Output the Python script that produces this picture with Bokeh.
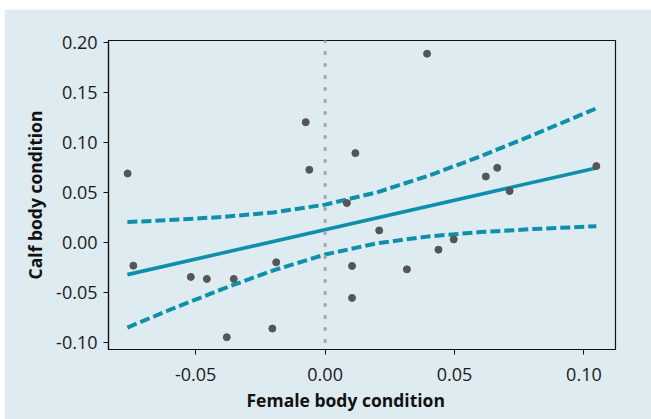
from bokeh.plotting import figure
from bokeh.models import FixedTicker, NumeralTickFormatter, Range1d, Span, Title
from bokeh.embed import file_html
from bokeh.resources import INLINE

# Female body condition (x) and calf body condition (y)
female = [-0.0763, -0.0075, -0.0061, 0.0394, 0.0117, 0.0084, 0.0621, 0.0665,
          0.1048, 0.0713, -0.0741, -0.0519, -0.0457, -0.0353, -0.0380, -0.0204,
          -0.0189, 0.0209, 0.0104, 0.0104, 0.0316, 0.0438, 0.0497]
calf = [0.0693, 0.1207, 0.0730, 0.1893, 0.0897, 0.0397, 0.0663, 0.0750,
        0.0767, 0.0517, -0.0230, -0.0343, -0.0363, -0.0363, -0.0947, -0.0860,
        -0.0197, 0.0123, -0.0233, -0.0553, -0.0267, -0.0070, 0.0033]

# Fitted regression line (end points)
fit_x = [-0.0764, 0.1048]
fit_y = [-0.0320, 0.0749]

# 95% confidence band
band_x = [-0.0764, -0.06, -0.04, -0.02, 0.0, 0.02, 0.04, 0.06, 0.08, 0.1048]
band_upper = [0.0207, 0.0226, 0.0257, 0.0303, 0.0381, 0.0504, 0.0671, 0.0864, 0.1075, 0.1345]
band_lower = [-0.0850, -0.0672, -0.0467, -0.0277, -0.0119, -0.0006, 0.0063, 0.0106, 0.0136, 0.0165]

x_ticks = [-0.05, 0.0, 0.05, 0.10]
y_ticks = [-0.10, -0.05, 0.0, 0.05, 0.10, 0.15, 0.20]

BG = "#deebf1"
TEAL = "#0e90aa"
FONT = "Open Sans"

p = figure(width=647, height=410, output_backend="svg", toolbar_location=None,
           x_range=Range1d(-0.0837, 0.1122), y_range=Range1d(-0.107, 0.2025),
           min_border_left=104, min_border_right=36, min_border_top=31,
           min_border_bottom=70)
p.margin = (9, 0, 0, 4)
p.background_fill_color = BG
p.border_fill_color = BG
p.outline_line_color = "#111111"
p.outline_line_width = 1.2
p.grid.visible = False

vline = Span(location=0, dimension="height", line_color="#a8a8a8",
             line_width=3.3, line_dash="1 11", line_cap="round")
p.add_layout(vline)

p.line(band_x, band_upper, line_color=TEAL, line_width=4, line_dash="10 4")
p.line(band_x, band_lower, line_color=TEAL, line_width=4, line_dash="10 4")
p.line(fit_x, fit_y, line_color=TEAL, line_width=3.6)
p.scatter(female, calf, size=7, fill_color="#555555", line_color="#555555")

for ax in (p.xaxis[0], p.yaxis[0]):
    ax.axis_line_color = "#111111"
    ax.axis_line_width = 1.2
    ax.major_tick_line_color = "#111111"
    ax.major_tick_out = 5
    ax.major_tick_in = 0
    ax.minor_tick_line_color = None
    ax.major_label_text_font = FONT
    ax.major_label_text_font_size = "18px"
    ax.major_label_text_color = "#1a1a1a"
    ax.axis_label_text_font = FONT
    ax.axis_label_text_font_size = "17.5px"
    ax.axis_label_text_font_style = "bold"
    ax.axis_label_text_color = "#111111"
    ax.formatter = NumeralTickFormatter(format="0.00")

p.xaxis.ticker = FixedTicker(ticks=x_ticks)
p.yaxis.ticker = FixedTicker(ticks=y_ticks)
p.yaxis.axis_label = "Calf body condition"
p.xaxis.major_label_standoff = 13
p.yaxis.major_label_standoff = 6
p.yaxis.axis_label_standoff = 6

xtitle = Title(text="Female body condition", align="left", offset=138,
               text_font=FONT, text_font_size="17.5px", text_font_style="bold",
               text_color="#111111", standoff=4)
p.add_layout(xtitle, "below")

open("out.html", "w").write(file_html(p, INLINE))
